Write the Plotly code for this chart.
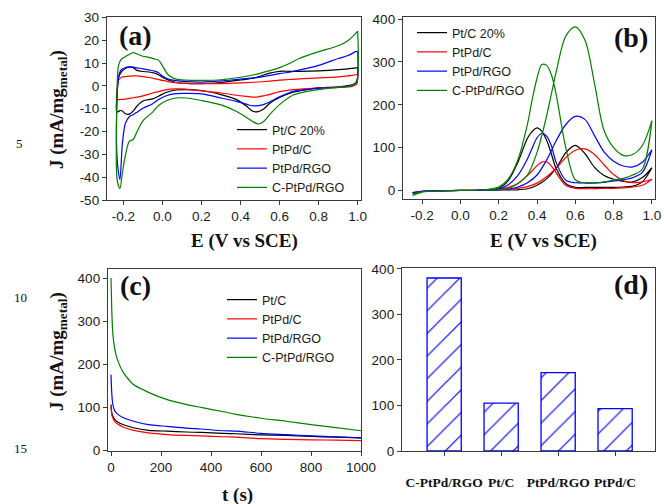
import plotly.graph_objects as go

W, H = 664, 504

# ---------------- data ----------------
SERIES_CV = ["Pt/C 20%", "PtPd/C", "PtPd/RGO", "C-PtPd/RGO"]
SERIES_CA = ["Pt/C", "PtPd/C", "PtPd/RGO", "C-PtPd/RGO"]
COLORS = ["#000000", "#ff0000", "#0000ff", "#008000"]

# (a) CV in acid: forward (anodic) and backward scans
A_E_FWD = [-0.235, -0.232, -0.225, -0.21, -0.19, -0.17, -0.15, -0.13, -0.1, -0.07,
           -0.04, -0.02, 0.0, 0.03, 0.07, 0.12, 0.2, 0.3, 0.4, 0.47,
           0.55, 0.6, 0.65, 0.7, 0.8, 0.9, 0.95, 0.99, 1.0]
A_E_BWD = [1.0, 0.995, 0.97, 0.9, 0.8, 0.74, 0.67, 0.6, 0.55, 0.52,
           0.49, 0.46, 0.43, 0.38, 0.3, 0.2, 0.12, 0.07, 0.02, -0.02,
           -0.05, -0.1, -0.13, -0.15, -0.17, -0.19, -0.205, -0.218, -0.228, -0.235]
A_PTC_FWD = [-11, -3, 3.5, 6.2, 7.6, 8.3, 8.0, 6.8, 6.3, 6.1, 5.6, 4.9, 3.8, 2.6, 1.5,
             1.1, 1.0, 1.5, 2.6, 3.5, 5.6, 6.4, 6.4, 6.4, 6.6, 7.1, 7.5, 7.9, 7.9]
A_PTC_BWD = [7.9, 1.5, 0.5, -0.4, -0.9, -1.5, -2.8, -5.1, -7.6, -10.0, -11.3, -11.0, -8.8,
             -6.0, -3.8, -2.0, -1.6, -1.8, -2.8, -4.5, -5.7, -6.6, -8.8, -11.0, -12.4,
             -12.2, -11.0, -10.8, -11.4, -11]
A_PTPDC_FWD = [-6.0, -2, 2.5, 3.8, 4.1, 4.3, 4.4, 4.4, 4.1, 3.7, 3.2, 2.8, 2.4, 1.9, 1.4,
               1.1, 1.0, 1.0, 1.3, 1.6, 2.1, 2.5, 2.8, 3.1, 3.5, 4.0, 4.4, 4.9, 4.9]
A_PTPDC_BWD = [4.9, 0.8, -0.2, -0.5, -0.9, -1.2, -1.6, -2.5, -3.7, -4.3, -4.8, -4.9, -4.6,
               -4.1, -3.1, -2.2, -1.4, -1.3, -1.6, -2.5, -3.1, -4.4, -4.9, -5.2, -5.5,
               -5.8, -5.9, -6.0, -6.0, -6.0]
A_PTPDRGO_FWD = [-26, -5, 4, 7.2, 8.0, 8.3, 8.2, 7.9, 7.5, 7.0, 6.5, 5.8, 4.3, 3.0, 2.3,
                 1.9, 1.7, 2.2, 3.0, 3.5, 4.6, 5.4, 6.0, 6.9, 9.0, 12.0, 13.3, 15.0, 15.2]
A_PTPDRGO_BWD = [15.2, 2, 0.1, -0.6, -1.0, -1.6, -2.4, -4.8, -7.0, -8.1, -8.6, -8.7, -8.0,
                 -6.8, -5.3, -3.5, -3.3, -3.4, -4.3, -6.0, -7.8, -9.8, -11.5, -12.6, -13.5,
                 -16.5, -25, -41, -36, -26]
A_CPTPD_FWD = [-38, 0, 9, 11.8, 12.8, 13.8, 14.6, 14.0, 13.0, 12.5, 11.8, 11.3, 8.8, 4.8,
               3.0, 2.5, 2.4, 2.7, 3.8, 4.9, 6.7, 8.0, 9.8, 12.0, 15.0, 17.6, 19.8, 23.0, 24.0]
A_CPTPD_BWD = [24, 2, 0.1, -0.6, -1.6, -2.4, -4.0, -8.2, -12.5, -15.5, -16.7, -15.5, -13.8,
               -11.2, -8.3, -6.4, -5.3, -5.3, -6.5, -8.6, -11.5, -15.3, -20.0, -23.5, -24.3,
               -30.5, -38, -45, -43, -38]

# (b) methanol oxidation CV
B_E_FWD = [-0.25, -0.2, -0.1, 0.0, 0.1, 0.2, 0.25, 0.3, 0.35, 0.4, 0.45, 0.5, 0.55, 0.6,
           0.65, 0.7, 0.75, 0.8, 0.85, 0.9, 0.95, 1.0]
B_E_BWD = [1.0, 0.95, 0.9, 0.85, 0.8, 0.75, 0.7, 0.65, 0.6, 0.55, 0.5, 0.475, 0.45, 0.425,
           0.4, 0.375, 0.35, 0.3, 0.25, 0.2, 0.1, 0.0, -0.1, -0.2, -0.25]
B_PTC_FWD = [-5, -2, -1, 0, 0.5, 1, 1, 1.5, 4, 12, 27, 52, 88, 105, 86, 54, 35, 26, 21, 20, 30, 53]
B_PTC_BWD = [53, 20, 10, 8, 7, 7, 7, 7, 7, 16, 51, 85, 117, 138, 146, 138, 122, 66, 23, 5,
             1, 0, -1, -2, -5]
B_PTPDC_FWD = [-5, -2, -1, 0, 0.5, 1.5, 3, 5, 9, 17, 32, 52, 77, 94, 97, 84, 60, 37, 23, 18, 20, 26]
B_PTPDC_BWD = [26, 12, 8, 6, 5, 5, 4, 4, 5, 12, 41, 57, 67, 66, 58, 46, 35, 16, 7, 3,
               1, 0, -1, -2, -5]
B_PTPDRGO_FWD = [-6, -2, -1, 0, 0.5, 1.5, 3, 8, 18, 36, 71, 116, 154, 173, 166, 128, 90, 68,
                 57, 55, 66, 95]
B_PTPDRGO_BWD = [95, 42, 30, 25, 22, 19, 18, 18, 18, 24, 65, 104, 127, 133, 123, 99, 74, 35,
                 13, 3, 1, 0, -1, -2, -6]
B_CPTPD_FWD = [-12, -4, -1, 0, 1, 2, 4, 16, 36, 89, 174, 277, 360, 382, 351, 250, 140, 100,
               82, 84, 105, 163]
B_CPTPD_BWD = [163, 50, 36, 28, 24, 20, 17, 17, 25, 100, 224, 270, 292, 294, 262, 213, 155,
               72, 27, 8, 1, 0, -1, -3, -8]

# (c) chronoamperometry
C_T = [0, 3, 7, 15, 25, 50, 90, 150, 225, 300, 360, 450, 500, 600, 700, 800, 900, 1000]
C_PTC = [107, 88, 80, 72, 67, 60, 53, 47, 45, 43, 42, 40, 39, 36.5, 35, 33, 31, 29.5]
C_PTPDC = [103, 84, 76, 67, 62, 54, 47, 41, 37, 35, 34, 32, 31, 27.5, 26, 25, 24, 23]
C_PTPDRGO = [176, 134, 108, 92, 85, 76, 68, 60, 56, 52, 50, 46, 45, 40, 37, 34, 32, 29.5]
C_CPTPD = [400, 327, 273, 236, 212, 180, 153, 135, 118, 107, 100, 90, 84, 75, 68, 60, 53, 46]

# (d) peak current bar chart
D_CATS = ["C-PtPd/RGO", "Pt/C", "PtPd/RGO", "PtPd/C"]
D_VALS = [380, 105, 172, 93]

A_TICKS_X = [-0.2, 0.0, 0.2, 0.4, 0.6, 0.8, 1.0]
A_TICKS_Y = [-50, -40, -30, -20, -10, 0, 10, 20, 30]
B_TICKS_Y = [0, 100, 200, 300, 400]
C_TICKS_X = [0, 200, 400, 600, 800, 1000]

# ---------------- figure ----------------
SANS = "Liberation Sans, Arial, sans-serif"
SERIF = "Liberation Serif, Times New Roman, serif"
AXC = "#3a3a3a"

fig = go.Figure()

a_fwd = [A_PTC_FWD, A_PTPDC_FWD, A_PTPDRGO_FWD, A_CPTPD_FWD]
a_bwd = [A_PTC_BWD, A_PTPDC_BWD, A_PTPDRGO_BWD, A_CPTPD_BWD]
for name, col, f, b in zip(SERIES_CV, COLORS, a_fwd, a_bwd):
    fig.add_trace(go.Scatter(x=A_E_FWD + A_E_BWD, y=f + b, mode="lines", name=name,
                             line=dict(color=col, width=1.2, shape="spline", smoothing=0.8),
                             xaxis="x", yaxis="y", legend="legend"))

b_fwd = [B_PTC_FWD, B_PTPDC_FWD, B_PTPDRGO_FWD, B_CPTPD_FWD]
b_bwd = [B_PTC_BWD, B_PTPDC_BWD, B_PTPDRGO_BWD, B_CPTPD_BWD]
for name, col, f, b in zip(SERIES_CV, COLORS, b_fwd, b_bwd):
    fig.add_trace(go.Scatter(x=B_E_FWD + B_E_BWD, y=f + b, mode="lines", name=name,
                             line=dict(color=col, width=1.2, shape="spline", smoothing=0.9),
                             xaxis="x2", yaxis="y2", legend="legend2"))

for name, col, ys in zip(SERIES_CA, COLORS, [C_PTC, C_PTPDC, C_PTPDRGO, C_CPTPD]):
    fig.add_trace(go.Scatter(x=C_T, y=ys, mode="lines", name=name,
                             line=dict(color=col, width=1.2, shape="spline", smoothing=0.6),
                             xaxis="x3", yaxis="y3", legend="legend3"))

fig.add_trace(go.Bar(x=D_CATS, y=D_VALS, width=0.6, showlegend=False,
                     marker=dict(color="white", line=dict(color="#0000ff", width=1.3),
                                 pattern=dict(shape="/", fgcolor="#0000ff", bgcolor="white",
                                              size=16, solidity=0.075)),
                     xaxis="x4", yaxis="y4"))

def ax(**kw):
    d = dict(showline=True, linecolor=AXC, linewidth=1.3, mirror=True, ticks="outside",
             ticklen=4, tickwidth=1, tickcolor=AXC, showgrid=False, zeroline=False,
             automargin=False,
             tickfont=dict(family=SANS, size=13.5, color="#1a1a1a"))
    d.update(kw)
    return d

def fmt(v, nd):
    return f"{v:.{nd}f}"

def dx(p0, p1):
    return [p0 / W, p1 / W]

def dy(top, bot):
    return [1 - bot / H, 1 - top / H]

fig.update_layout(
    template="none",
    width=W, height=H, margin=dict(l=0, r=0, t=0, b=0, pad=0, autoexpand=False),
    paper_bgcolor="white", plot_bgcolor="white", bargap=0.4,
    xaxis=ax(domain=dx(107, 361), range=[-0.284, 1.017], anchor="y",
             tickvals=A_TICKS_X, ticktext=[fmt(v, 1) for v in A_TICKS_X]),
    yaxis=ax(domain=dy(17, 200), range=[-50, 30.2], anchor="x",
             tickvals=A_TICKS_Y, ticktext=[str(v) for v in A_TICKS_Y]),
    xaxis2=ax(domain=dx(403, 655), range=[-0.3, 1.016], anchor="y2",
              tickvals=A_TICKS_X, ticktext=[fmt(v, 1) for v in A_TICKS_X]),
    yaxis2=ax(domain=dy(17, 199), range=[-20, 405], anchor="x2",
              tickvals=B_TICKS_Y, ticktext=[str(v) for v in B_TICKS_Y]),
    xaxis3=ax(domain=dx(108, 361), range=[-12, 1000], anchor="y3",
              tickvals=C_TICKS_X, ticktext=[str(v) for v in C_TICKS_X]),
    yaxis3=ax(domain=dy(269, 451), range=[-1, 421], anchor="x3",
              tickvals=B_TICKS_Y, ticktext=[str(v) for v in B_TICKS_Y]),
    xaxis4=ax(domain=dx(402, 655), range=[-0.74, 3.7], anchor="y4", type="category",
              ticklabelstandoff=15,
              tickfont=dict(family=SERIF, size=13.5, color="#111111", weight="bold")),
    yaxis4=ax(domain=dy(268, 451), range=[0, 402], anchor="x4",
              tickvals=B_TICKS_Y, ticktext=[str(v) for v in B_TICKS_Y]),
)

leg_common = dict(bgcolor="rgba(0,0,0,0)", borderwidth=0, xanchor="left", yanchor="top",
                  font=dict(family=SANS, size=12.5, color="#1a1a1a"),
                  tracegroupgap=0, itemwidth=30)
fig.update_layout(
    legend=dict(x=232 / W, y=1 - 115 / H, **leg_common),
    legend2=dict(x=412 / W, y=1 - 18 / H, **leg_common),
    legend3=dict(x=222 / W, y=1 - 285 / H, **leg_common),
)

ann = []
def text(x, y, s, size, family=SERIF, angle=0, color="#111111"):
    ann.append(dict(x=x / W, y=1 - y / H, xref="paper", yref="paper", text=s,
                    showarrow=False, textangle=angle, xanchor="center", yanchor="middle",
                    font=dict(family=family, size=size, color=color)))

text(135, 36, "<b>(a)</b>", 28)
text(631, 38, "<b>(b)</b>", 28)
text(135, 285, "<b>(c)</b>", 28)
text(631, 284, "<b>(d)</b>", 28)
text(244, 241, "<b>E (V vs SCE)</b>", 19)
text(543, 241, "<b>E (V vs SCE)</b>", 19)
text(237, 495, "<b>t (s)</b>", 19)
text(58, 110, "<b>J (mA/mg<sub>metal</sub>)</b>", 19, angle=-90)
text(58, 352, "<b>J (mA/mg<sub>metal</sub>)</b>", 19, angle=-90)
text(19, 143, "5", 13)
text(20, 297, "10", 13)
text(20, 448, "15", 13)
fig.update_layout(annotations=ann)

fig.write_html("out.html")
